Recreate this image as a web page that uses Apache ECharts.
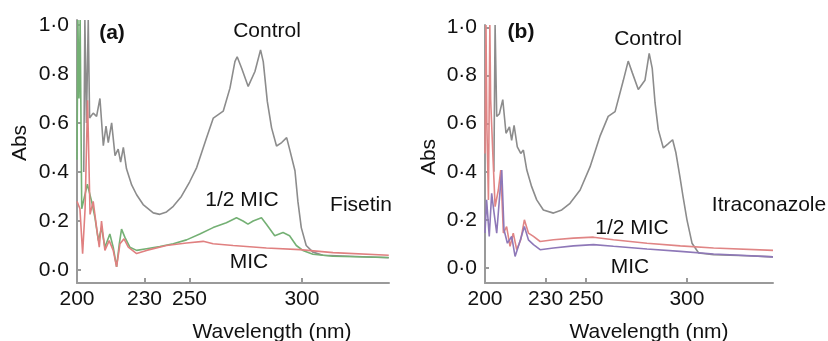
<!DOCTYPE html>
<html><head><meta charset="utf-8">
<script src="https://cdn.jsdelivr.net/npm/echarts@6/dist/echarts.min.js"></script>
<style>html,body{margin:0;padding:0;background:#fff}#c{width:828px;height:341px}</style>
</head><body><div id="c"></div>
<script>
// Panel (a) – Fisetin
const aControlNm = [203.0,203.5,204.2,205.0,205.6,207.2,208.7,210.2,211.7,212.9,213.9,215.4,216.9,218.3,219.4,220.6,222.0,224.3,226.5,229.4,233.9,236.8,239.8,242.8,246.4,250.1,253.2,257.6,260.6,265.0,268.0,270.2,271.2,273.2,276.1,279.1,281.6,282.8,284.6,286.5,288.7,291.0,293.2,294.7,296.9,298.2,299.7,301.9,304.9,309.3,321.2,338.6];
const aControlAbs = [0.40,1.02,0.60,1.02,0.62,0.64,0.627,0.70,0.507,0.587,0.52,0.60,0.467,0.493,0.44,0.50,0.413,0.347,0.307,0.267,0.233,0.227,0.237,0.26,0.30,0.36,0.418,0.54,0.62,0.648,0.742,0.85,0.87,0.823,0.749,0.81,0.898,0.85,0.688,0.58,0.506,0.52,0.54,0.486,0.405,0.28,0.173,0.10,0.073,0.06,0.056,0.05];
const aHalfNm = [200.0,200.4,200.9,201.4,202.1,204.6,206.5,208.0,209.5,210.9,212.4,214.6,216.1,217.6,218.8,219.8,221.3,223.5,226.5,230.9,236.8,242.8,248.7,254.6,260.5,266.4,270.9,273.8,276.0,278.3,282.0,284.2,287.9,291.6,294.5,297.5,300.4,304.9,313.8,338.6];
const aHalfAbs = [0.45,1.02,0.70,1.02,0.25,0.35,0.28,0.213,0.12,0.173,0.093,0.147,0.093,0.013,0.107,0.167,0.133,0.093,0.08,0.087,0.096,0.107,0.123,0.147,0.173,0.193,0.213,0.20,0.187,0.20,0.213,0.187,0.14,0.153,0.14,0.10,0.08,0.064,0.056,0.051];
const aMicNm = [200.0,201.3,202.5,203.6,204.7,205.8,207.2,208.7,209.9,210.9,212.4,214.3,216.1,217.6,219.1,220.9,222.8,226.5,230.9,239.8,248.7,256.1,260.5,269.4,284.2,299.0,313.8,338.6];
const aMicAbs = [0.28,0.25,0.067,0.25,0.693,0.227,0.28,0.173,0.093,0.20,0.08,0.12,0.08,0.013,0.107,0.127,0.093,0.067,0.08,0.10,0.11,0.117,0.107,0.10,0.09,0.083,0.071,0.06];

// Panel (b) – Itraconazole
const bControlNm = [204.4,205.0,205.8,207.1,208.8,210.4,212.1,213.2,214.4,216.0,217.7,219.0,220.7,223.1,225.6,228.9,233.9,238.0,242.1,247.1,252.0,256.9,261.0,264.4,268.5,270.9,273.0,275.9,279.2,281.3,282.8,284.2,285.8,288.3,290.5,292.9,294.5,296.5,298.0,300.0,302.5,305.8,313.2,329.8,342.6];
const bControlAbs = [0.40,1.01,0.63,0.64,0.70,0.56,0.586,0.53,0.593,0.503,0.476,0.49,0.407,0.338,0.283,0.241,0.228,0.241,0.269,0.324,0.42,0.547,0.63,0.65,0.78,0.86,0.81,0.742,0.78,0.892,0.83,0.686,0.575,0.499,0.515,0.533,0.48,0.38,0.30,0.20,0.103,0.062,0.055,0.051,0.046];
const bHalfNm = [200.0,200.5,200.9,201.7,202.4,202.8,203.8,205.0,206.6,207.8,209.1,210.7,212.4,214.0,215.7,217.7,219.5,221.5,224.0,227.3,233.9,243.8,253.7,263.6,280.2,296.7,313.2,342.6];
const bHalfAbs = [0.476,1.01,0.60,0.283,1.01,0.70,0.49,0.255,0.324,0.407,0.145,0.172,0.09,0.145,0.076,0.117,0.20,0.145,0.131,0.11,0.117,0.124,0.128,0.117,0.103,0.092,0.083,0.073];
const bMicNm = [200.0,200.8,202.1,203.3,204.5,205.8,207.1,208.3,209.4,211.1,213.2,214.9,217.0,219.5,221.5,224.0,227.3,233.9,243.8,253.7,263.6,280.2,296.7,313.2,342.6];
const bMicAbs = [0.145,0.283,0.131,0.31,0.228,0.145,0.283,0.407,0.159,0.103,0.131,0.048,0.103,0.172,0.117,0.097,0.076,0.083,0.092,0.097,0.09,0.079,0.069,0.058,0.046];

const xLabelValues = [200, 230, 250, 300];
const xTickValues = [230, 250, 300];
const yLabelValues = [0, 0.2, 0.4, 0.6, 0.8, 1.0];

const zip = (xs, ys) => xs.map((x, i) => [x, ys[i]]);
const FONT = '"Liberation Sans", Arial, sans-serif';
const FS = 21;
const AXIS_COLOR = '#9a9a9a';

function xAxis(gi, max) {
  return {
    type: 'value', gridIndex: gi, min: 200, max: max,
    axisLine: { onZero: false, lineStyle: { color: AXIS_COLOR, width: 2 } },
    axisTick: { show: true, inside: true, length: 5, customValues: xTickValues, lineStyle: { color: AXIS_COLOR, width: 2 } },
    axisLabel: { customValues: xLabelValues, fontSize: FS, color: '#111', fontFamily: FONT, margin: 6 },
    splitLine: { show: false }
  };
}
function yAxis(gi, min, max) {
  return {
    type: 'value', gridIndex: gi, min: min, max: max,
    axisLine: { show: true, onZero: false, lineStyle: { color: AXIS_COLOR, width: 2 } },
    axisTick: { show: true, inside: true, length: 4, customValues: yLabelValues, lineStyle: { color: AXIS_COLOR, width: 2 } },
    axisLabel: { customValues: yLabelValues, fontSize: FS, color: '#111', fontFamily: FONT, margin: 8,
      formatter: v => v.toFixed(1).replace('.', '\u00B7') },
    splitLine: { show: false }
  };
}
function line(xi, xs, ys, color) {
  return { type: 'line', xAxisIndex: xi, yAxisIndex: xi, data: zip(xs, ys), showSymbol: false,
    lineStyle: { color: color, width: 1.6 }, itemStyle: { color: color }, clip: true, animation: false };
}
function txt(x, y, s, bold) {
  return { type: 'text', x: x, y: y, style: { text: s, fill: '#111', font: (bold ? 'bold ' : '') + FS + 'px ' + FONT, align: 'center', verticalAlign: 'middle' } };
}
function vtxt(x, y, s) {
  return { type: 'text', x: x, y: y, rotation: Math.PI / 2, style: { text: s, fill: '#111', font: FS + 'px ' + FONT, align: 'center', verticalAlign: 'middle' } };
}

const chart = echarts.init(document.getElementById('c'), null, { renderer: 'canvas' });
chart.setOption({
  animation: false,
  grid: [
    { left: 77, top: 20, width: 312, height: 263 },
    { left: 485, top: 25, width: 288, height: 258 }
  ],
  xAxis: [xAxis(0, 338.7), xAxis(1, 342.6)],
  yAxis: [yAxis(0, -0.053, 1.02), yAxis(1, -0.0625, 1.01)],
  series: [
    line(0, aControlNm, aControlAbs, '#8c8c8c'),
    line(0, aHalfNm, aHalfAbs, '#74b074'),
    line(0, aMicNm, aMicAbs, '#e08080'),
    line(1, bControlNm, bControlAbs, '#8c8c8c'),
    line(1, bHalfNm, bHalfAbs, '#e08585'),
    line(1, bMicNm, bMicAbs, '#8e78b8')
  ],
  graphic: [
    txt(112, 33, '(a)', true),
    txt(267, 31, 'Control'),
    txt(242, 200, '1/2 MIC'),
    txt(249, 262, 'MIC'),
    txt(361, 205, 'Fisetin'),
    txt(272, 332, 'Wavelength (nm)'),
    vtxt(20, 143, 'Abs'),
    txt(521, 32, '(b)', true),
    txt(648, 39, 'Control'),
    txt(632, 228, '1/2 MIC'),
    txt(630, 267, 'MIC'),
    txt(769, 205, 'Itraconazole'),
    txt(649, 332, 'Wavelength (nm)'),
    vtxt(429, 157, 'Abs')
  ]
});
</script></body></html>
